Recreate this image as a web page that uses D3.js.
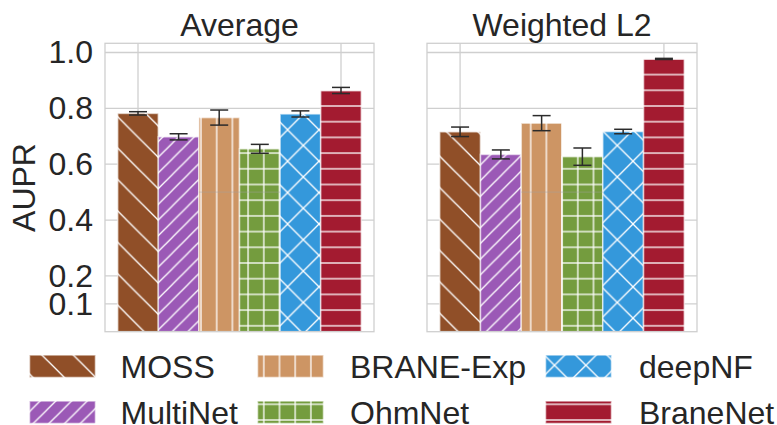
<!DOCTYPE html>
<html>
<head>
<meta charset="utf-8">
<script src="https://cdn.jsdelivr.net/npm/d3@7"></script>
<style>
  body { margin: 0; background: #fff; }
  text { font-family: "Liberation Sans", Arial, sans-serif; fill: #262626; }
</style>
</head>
<body>
<svg id="chart"></svg>
<script>
// Models, in plotting order
const models = ["MOSS", "MultiNet", "BRANE-Exp", "OhmNet", "deepNF", "BraneNet"];
const modelColors = ["#904F28", "#9B59B6", "#CD9564", "#749C3E", "#3498DB", "#A31B30"];
const modelHatches = ["\\", "//", "|", "+", "x", "-"];

// Panels
const panelTitles = ["Average", "Weighted L2"];

// AUPR means and error half-widths per panel
const averageValues  = [0.782, 0.698, 0.767, 0.655, 0.780, 0.864];
const averageErrors  = [0.006, 0.011, 0.027, 0.016, 0.011, 0.011];
const weightedValues = [0.716, 0.635, 0.747, 0.627, 0.717, 0.977];
const weightedErrors = [0.017, 0.016, 0.027, 0.031, 0.008, 0.002];

const yTickValues = [0.1, 0.2, 0.4, 0.6, 0.8, 1.0];
const yLabel = "AUPR";

const W = 777, H = 425;
const svg = d3.select("#chart").attr("width", W).attr("height", H);

const gridColor = "#cfcfcf";
const fontSize = 32;

// ---- hatch patterns (tiled in page space so all bars share one grid) ----
const defs = svg.append("defs");
const fine = 15.7, coarse = 31.4;
const hatchSpec = {
  "\\": { size: coarse, ox: 0,    oy: 30.5 },
  "//": { size: fine,   ox: 0,    oy: 1.5 },
  "|":  { size: fine,   ox: 12.6, oy: 0 },
  "+":  { size: fine,   ox: 12.6, oy: 11.8 },
  "x":  { size: coarse, ox: 5.0,  oy: 4.2 },
  "-":  { size: fine,   ox: 0,    oy: 11.8 }
};
function addHatch(id, color, hatch) {
  const s = hatchSpec[hatch], P = s.size;
  const p = defs.append("pattern").attr("id", id)
    .attr("patternUnits", "userSpaceOnUse")
    .attr("x", s.ox).attr("y", s.oy)
    .attr("width", P).attr("height", P);
  p.append("rect").attr("width", P).attr("height", P).attr("fill", color);
  const segs = [];
  if (hatch === "\\" || hatch === "x") {
    segs.push([-1, -1, P + 1, P + 1], [-1, P - 1, 1, P + 1], [P - 1, -1, P + 1, 1]);
  }
  if (hatch === "//" || hatch === "x") {
    segs.push([-1, P + 1, P + 1, -1], [-1, 1, 1, -1], [P - 1, P + 1, P + 1, P - 1]);
  }
  if (hatch === "|" || hatch === "+") {
    segs.push([0, -1, 0, P + 1], [P, -1, P, P + 1]);
  }
  if (hatch === "-" || hatch === "+") {
    segs.push([-1, 0, P + 1, 0], [-1, P, P + 1, P]);
  }
  p.selectAll("line").data(segs).join("line")
    .attr("x1", d => d[0]).attr("y1", d => d[1])
    .attr("x2", d => d[2]).attr("y2", d => d[3])
    .attr("stroke", "#fff").attr("stroke-width", 1.3);
}
models.forEach((m, i) => addHatch("hatch" + i, modelColors[i], modelHatches[i]));

// ---- axes ----
const plotTop = 43.3, plotBottom = 331.7;
const panels = [
  { x0: 105, x1: 374, title: panelTitles[0], values: averageValues, errors: averageErrors },
  { x0: 427, x1: 697, title: panelTitles[1], values: weightedValues, errors: weightedErrors }
];
const y = d3.scaleLinear().domain([0, 1.033]).range([plotBottom, plotTop]);

panels.forEach((pn, pi) => {
  const g = svg.append("g");
  const x = d3.scaleBand().domain(models).range([pn.x0 + 12.7, pn.x1 - 12.7]).padding(0);
  const bw = x.bandwidth();

  // horizontal grid
  g.selectAll(".hgrid").data(yTickValues).join("line")
    .attr("x1", pn.x0).attr("x2", pn.x1)
    .attr("y1", d => y(d)).attr("y2", d => y(d))
    .attr("stroke", gridColor).attr("stroke-width", 1.3);
  // vertical grid at outer bar centres
  const vgrid = [models[0], models[models.length - 1]];
  g.selectAll(".vgrid").data(vgrid).join("line")
    .attr("x1", d => x(d) + bw / 2).attr("x2", d => x(d) + bw / 2)
    .attr("y1", plotTop).attr("y2", plotBottom)
    .attr("stroke", gridColor).attr("stroke-width", 1.3);

  // bars
  g.selectAll(".bar").data(models).join("rect")
    .attr("x", d => x(d)).attr("width", bw)
    .attr("y", (d, i) => y(pn.values[i]))
    .attr("height", (d, i) => y(0) - y(pn.values[i]))
    .attr("fill", (d, i) => `url(#hatch${i})`)
    .attr("stroke", "#fff").attr("stroke-opacity", 0.6).attr("stroke-width", 1.6);

  // faint mid guide at 0.5 across the middle pair of bars
  g.append("line")
    .attr("x1", x(models[2])).attr("x2", x(models[3]) + bw)
    .attr("y1", y(0.5)).attr("y2", y(0.5))
    .attr("stroke", "#a0a0a0").attr("stroke-opacity", 0.45).attr("stroke-width", 1);

  // error bars
  const eb = g.selectAll(".err").data(models).join("g");
  eb.append("line")
    .attr("x1", d => x(d) + bw / 2).attr("x2", d => x(d) + bw / 2)
    .attr("y1", (d, i) => y(pn.values[i] - pn.errors[i]))
    .attr("y2", (d, i) => y(pn.values[i] + pn.errors[i]))
    .attr("stroke", "#2b2b2b").attr("stroke-width", 1.5);
  [-1, 1].forEach(sgn => {
    eb.append("line")
      .attr("x1", d => x(d) + bw / 2 - 9).attr("x2", d => x(d) + bw / 2 + 9)
      .attr("y1", (d, i) => y(pn.values[i] + sgn * pn.errors[i]))
      .attr("y2", (d, i) => y(pn.values[i] + sgn * pn.errors[i]))
      .attr("stroke", "#2b2b2b").attr("stroke-width", 1.5);
  });

  // frame
  g.append("rect").attr("x", pn.x0).attr("y", plotTop)
    .attr("width", pn.x1 - pn.x0).attr("height", plotBottom - plotTop)
    .attr("fill", "none").attr("stroke", gridColor).attr("stroke-width", 1.3);

  // title
  g.append("text").attr("x", (pn.x0 + pn.x1) / 2).attr("y", 36)
    .attr("text-anchor", "middle").attr("font-size", 32).text(pn.title);

  // y axis (left panel only)
  if (pi === 0) {
    const ax = d3.axisLeft(y).tickValues(yTickValues).tickSize(0).tickPadding(12)
      .tickFormat(d3.format(".1f"));
    const axg = svg.append("g").attr("transform", `translate(${pn.x0},0)`).call(ax);
    axg.select(".domain").remove();
    axg.selectAll("text").attr("font-size", fontSize).attr("fill", "#262626")
      .style("font-family", '"Liberation Sans", Arial, sans-serif');
    svg.append("text")
      .attr("transform", `translate(35,${(plotTop + plotBottom) / 2}) rotate(-90)`)
      .attr("text-anchor", "middle").attr("font-size", 32).text(yLabel);
  }
});

// ---- legend (3 columns, filled column by column) ----
const legendCols = [29.5, 257.5, 545.5];
const legendRows = [355, 401];
const legendTextX = [120.5, 350, 639];
const lg = svg.append("g");
models.forEach((m, i) => {
  const col = Math.floor(i / 2), row = i % 2;
  lg.append("rect")
    .attr("x", legendCols[col]).attr("y", legendRows[row])
    .attr("width", 66).attr("height", 22.5)
    .attr("fill", `url(#hatch${i})`)
    .attr("stroke", "#fff").attr("stroke-opacity", 0.6).attr("stroke-width", 1.6);
  lg.append("text")
    .attr("x", legendTextX[col]).attr("y", legendRows[row] + 22.5)
    .attr("font-size", fontSize).text(m);
});
</script>
</body>
</html>
